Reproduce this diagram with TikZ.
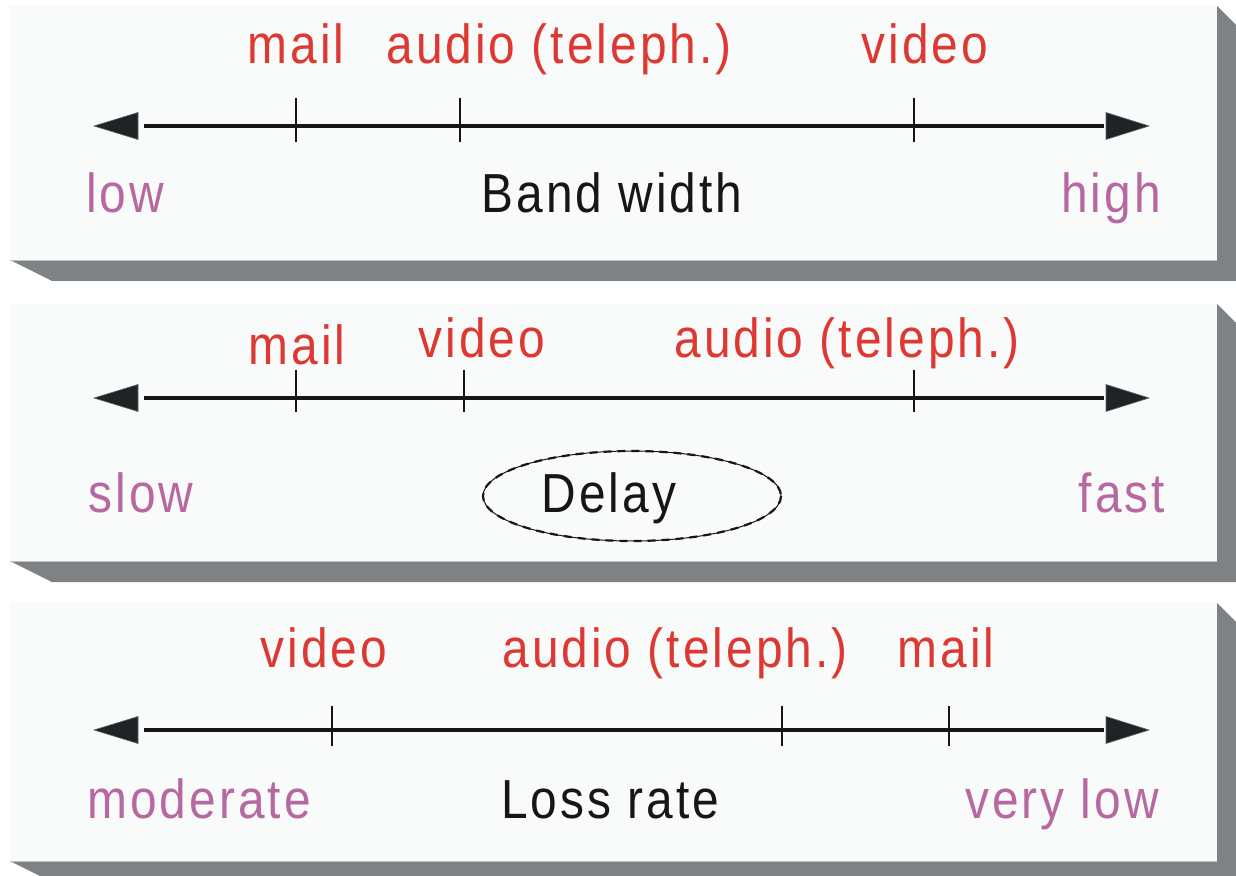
\documentclass[tikz,border=0pt]{standalone}
\usepackage{fontspec}
\setmainfont[FakeStretch=0.87, LetterSpace=5.5]{Liberation Sans}
\usetikzlibrary{shapes.geometric}
\definecolor{lblred}{RGB}{221,56,49}
\definecolor{lblpurple}{RGB}{184,104,160}
\definecolor{shadowgray}{RGB}{126,130,133}
\definecolor{facegray}{RGB}{249,250,250}
\definecolor{inkblack}{RGB}{22,22,22}
\definecolor{headblack}{RGB}{31,35,38}
\newcommand{\mypanel}[2]{%
  \fill[shadowgray] (10,#2) -- (52,#2+21) -- (1236,#2+21) -- (1236,#1+19) -- (1217,#1) -- cycle;
  \fill[facegray] (10,#1) rectangle (1217,#2);
  \draw[black!25, line width=0.4pt] (10,#2) -- (1217,#2);
}
\newcommand{\myaxis}[3]{% y, left name, right name
  \coordinate (#2) at (94,#1);
  \coordinate (#3) at (1149,#1);
  \draw[axisline] ([xshift=25pt]#2) -- ([xshift=-22.5pt]#3);
  \filldraw[headfill] (#2) -- ++(44,-13.5) -- ++(0,27) -- cycle;
  \filldraw[headfill] (#3) -- ++(-43,-13.5) -- ++(0,27) -- cycle;
}
\begin{document}
\begin{tikzpicture}[x=0.5pt,y=-0.5pt,
  lbl/.style={font=\fontsize{27.5}{32}\selectfont, anchor=base, inner sep=0pt},
  item/.style={lbl, text=lblred},
  endlbl/.style={lbl, text=lblpurple},
  ttl/.style={lbl, text=inkblack},
  axisline/.style={draw=inkblack, line width=1.9pt},
  tickline/.style={draw=inkblack, line width=1.1pt},
  headfill/.style={fill=headblack, draw=headblack!70, line width=0.3pt, line join=miter}]
\clip (0,0) rectangle (1236,876);
\fill[white] (0,0) rectangle (1236,876);

% ---------------- Panel 1: Band width ----------------
\mypanel{6}{260}
\myaxis{126}{a1L}{a1R}
\coordinate (t1a) at (296,126);
\coordinate (t1b) at (460,126);
\coordinate (t1c) at (914,126);
\foreach \t in {t1a,t1b,t1c} \draw[tickline] ([yshift=14pt]\t) -- ([yshift=-8pt]\t);
\node[item] (p1mail) at (296,64) {mail};
\node[item] (p1audio) at (559,64) {audio (teleph.)};
\node[item] (p1video) at (925,64) {video};
\node[endlbl] (p1low) at (125,213) {low};
\node[ttl] (p1title) at (612,213) {Band width};
\node[endlbl] (p1high) at (1111,213) {high};

% ---------------- Panel 2: Delay ----------------
\mypanel{304}{561}
\myaxis{398}{a2L}{a2R}
\coordinate (t2a) at (296,398);
\coordinate (t2b) at (464,398);
\coordinate (t2c) at (914,398);
\foreach \t in {t2a,t2b,t2c} \draw[tickline] ([yshift=14pt]\t) -- ([yshift=-7pt]\t);
\node[item] (p2mail) at (297,365) {mail};
\node[item] (p2video) at (482,358) {video};
\node[item] (p2audio) at (847,358) {audio (teleph.)};
\node[endlbl] (p2slow) at (141,513) {slow};
\node[draw=inkblack, line width=0.5pt, ellipse, minimum width=149pt, minimum height=45pt, inner sep=0pt] (p2ell) at (632,496) {};
\draw[inkblack, line width=1.1pt, dash pattern=on 4pt off 3pt] (632,496) ellipse [x radius=149, y radius=45];
\node[ttl] (p2title) at (609,513) {Delay};
\node[endlbl] (p2fast) at (1122,513) {fast};

% ---------------- Panel 3: Loss rate ----------------
\mypanel{603}{861}
\myaxis{730}{a3L}{a3R}
\coordinate (t3a) at (332,730);
\coordinate (t3b) at (782,730);
\coordinate (t3c) at (949,730);
\foreach \t in {t3a,t3b,t3c} \draw[tickline] ([yshift=12pt]\t) -- ([yshift=-8pt]\t);
\node[item] (p3video) at (324,667) {video};
\node[item] (p3audio) at (675,667) {audio (teleph.)};
\node[item] (p3mail) at (946,667) {mail};
\node[endlbl] (p3mod) at (199,818) {moderate};
\node[ttl] (p3title) at (610,818) {Loss rate};
\node[endlbl] (p3vlow) at (1062,818) {very low};
\end{tikzpicture}
\end{document}
